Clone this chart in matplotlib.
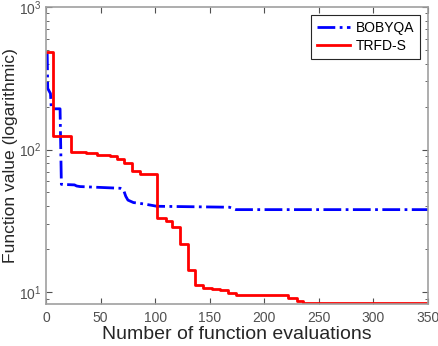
import matplotlib
matplotlib.use('Agg')
import matplotlib.pyplot as plt
from matplotlib.ticker import LogLocator, NullFormatter

plt.rcParams['font.family'] = ['Liberation Sans', 'DejaVu Sans']

# BOBYQA (dash-dot, mostly steps with a few sloped parts)
bob_x = [1, 1.5, 4, 4.8, 12.8, 14.0, 26, 28, 31, 68, 71, 73, 75, 80, 90, 101.6,
         168, 174, 350]
bob_y = [480, 268, 247, 193, 193, 57, 56.5, 55.5, 55, 53.5, 52, 47, 44.2, 42.5, 41.5, 40,
         39.4, 37.9, 37.9]

# TRFD-S (staircase, solid)
trf_x = [1, 6.4, 23, 36.6, 46.6, 58.6, 65, 71.5, 78.6, 86, 101.5, 110, 115.5, 122.8,
         130, 136.5, 144, 152, 159.4, 167, 174, 222, 230, 235, 270, 350]
trf_y = [481, 124, 96, 94, 91, 90, 86, 80, 70.5, 67, 33.3, 31.7, 28.4, 21.8,
         14.3, 11.2, 10.7, 10.6, 10.3, 9.9, 9.5, 9.1, 8.6, 8.4, 8.35, 8.2]

fig = plt.figure(figsize=(4.39, 3.46), dpi=100)
ax = fig.add_axes([0.105, 0.121, 0.87, 0.859])

ax.plot(bob_x, bob_y, color='#0000ff', linestyle='-.', linewidth=2, label='BOBYQA')
ax.step(trf_x, trf_y, where='post', color='#ff0000', linestyle='-', linewidth=2,
        label='TRFD-S')

ax.set_yscale('log')
ax.set_xlim(0, 350)
ax.set_ylim(8.24, 1000)
ax.set_xticks([0, 50, 100, 150, 200, 250, 300, 350])
ax.yaxis.set_major_locator(LogLocator(base=10, numticks=5))
ax.yaxis.set_minor_locator(LogLocator(base=10, subs=range(2, 10), numticks=20))
ax.yaxis.set_minor_formatter(NullFormatter())

ax.set_xlabel('Number of function evaluations', fontsize=14, color='#262626',
              labelpad=1)
ax.set_ylabel('Function value (logarithmic)', fontsize=12.6, color='#262626',
              labelpad=1)

for s in ax.spines.values():
    s.set_color('#a0a0a0')
    s.set_linewidth(1.2)
ax.tick_params(which='both', direction='in', top=True, right=True,
               colors='#505050', labelsize=10)
ax.tick_params(axis='x', pad=5)
ax.tick_params(axis='y', pad=3)
ax.tick_params(which='major', length=4)
ax.tick_params(which='minor', length=2)

leg = ax.legend(loc='upper right', fontsize=10, fancybox=False, framealpha=1,
                edgecolor='#262626', handlelength=2.4, handletextpad=0.4,
                borderpad=0.4, labelspacing=0.3, borderaxespad=0.6)
leg.get_frame().set_linewidth(0.8)

fig.savefig('out.png', dpi=100)
